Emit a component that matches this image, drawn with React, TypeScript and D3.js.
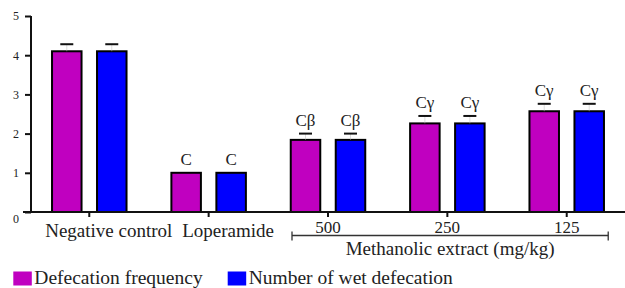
import { useEffect, useRef } from 'react'
import * as d3 from 'd3'

const groups = ['Negative control', 'Loperamide', '500', '250', '125']
const series = ['Defecation frequency', 'Number of wet defecation']
const colors = ['#c000c0', '#0000ff']
const defecationFrequency = [4.1, 1.0, 1.84, 2.26, 2.57]
const wetDefecation = [4.1, 1.0, 1.84, 2.26, 2.57]
const errFrequency = [0.18, 0, 0.16, 0.19, 0.19]
const errWet = [0.18, 0, 0.16, 0.19, 0.19]
const marks = ['', 'C', 'Cβ', 'Cγ', 'Cγ']
const yTicks = [0, 1, 2, 3, 4, 5]
const bracketLabel = 'Methanolic extract (mg/kg)'

const FONT = '"Liberation Serif", "DejaVu Serif", serif'

export default function App() {
  const svgRef = useRef<SVGSVGElement>(null)

  useEffect(() => {
    if (!svgRef.current) return
    const svg = d3.select(svgRef.current)
    svg.selectAll('*').remove()

    const W = 625
    const H = 288
    svg.attr('width', W).attr('height', H).attr('viewBox', `0 0 ${W} ${H}`)

    const axisX = 31
    const x0 = d3.scaleBand().domain(groups).range([29.6, 626.4]).padding(0)
    const x1 = d3.scaleBand().domain(series).range([-37.25, 37.25]).paddingInner(0.344).paddingOuter(0)
    const y = d3.scaleLinear().domain([0, 5]).range([212, 16])

    const cx = (g: string) => (x0(g) as number) + x0.bandwidth() / 2

    const rows = groups.flatMap((g, i) => [
      { g, s: series[0], v: defecationFrequency[i], e: errFrequency[i], m: marks[i], c: colors[0] },
      { g, s: series[1], v: wetDefecation[i], e: errWet[i], m: marks[i], c: colors[1] },
    ])

    // bars
    svg.append('g')
      .selectAll('rect')
      .data(rows)
      .join('rect')
      .attr('x', (d) => cx(d.g) + (x1(d.s) as number))
      .attr('width', x1.bandwidth())
      .attr('y', (d) => y(d.v))
      .attr('height', (d) => y(0) - y(d.v))
      .attr('fill', (d) => d.c)
      .attr('stroke', '#000')
      .attr('stroke-width', 2)

    // error bars: faint stem, dark cap
    const errRows = rows.filter((d) => d.e > 0)
    svg.append('g')
      .selectAll('line.stem')
      .data(errRows)
      .join('line')
      .attr('x1', (d) => cx(d.g) + (x1(d.s) as number) + x1.bandwidth() / 2)
      .attr('x2', (d) => cx(d.g) + (x1(d.s) as number) + x1.bandwidth() / 2)
      .attr('y1', (d) => y(d.v))
      .attr('y2', (d) => y(d.v + d.e))
      .attr('stroke', '#bbb')
      .attr('stroke-width', 0.5)
    svg.append('g')
      .selectAll('line.cap')
      .data(errRows)
      .join('line')
      .attr('x1', (d) => cx(d.g) + (x1(d.s) as number) + x1.bandwidth() / 2 - 6.5)
      .attr('x2', (d) => cx(d.g) + (x1(d.s) as number) + x1.bandwidth() / 2 + 6.5)
      .attr('y1', (d) => y(d.v + d.e))
      .attr('y2', (d) => y(d.v + d.e))
      .attr('stroke', '#111')
      .attr('stroke-width', 2)

    // significance marks
    svg.append('g')
      .selectAll('text')
      .data(rows.filter((d) => d.m))
      .join('text')
      .attr('x', (d) => cx(d.g) + (x1(d.s) as number) + x1.bandwidth() / 2)
      .attr('y', (d) => y(d.v + d.e) - 8)
      .attr('text-anchor', 'middle')
      .attr('font-family', FONT)
      .attr('font-size', 17)
      .attr('fill', '#222')
      .text((d) => d.m)

    // y axis
    const yAxis = svg.append('g')
      .attr('transform', `translate(${axisX},0)`)
      .call(d3.axisLeft(y).tickValues(yTicks).tickSize(6).tickPadding(6).tickFormat(d3.format('d')))
    yAxis.select('.domain').attr('stroke', '#111').attr('stroke-width', 2).attr('d', `M0,${y(5)}V${y(0)}`)
    yAxis.selectAll('.tick line').attr('stroke', '#111').attr('stroke-width', 2)
    yAxis.selectAll('.tick text')
      .attr('font-family', FONT)
      .attr('font-size', 12)
      .attr('fill', '#222')
      .attr('dy', (d: any) => (d === 0 ? '0.9em' : '0.32em'))

    // x axis
    const xAxis = svg.append('g')
      .attr('transform', `translate(0,${y(0)})`)
      .call(d3.axisBottom(x0).tickSize(5).tickFormat(() => ''))
    xAxis.select('.domain').attr('stroke', '#111').attr('stroke-width', 2).attr('d', `M23,0H625`)
    xAxis.selectAll('.tick line').attr('stroke', '#111').attr('stroke-width', 2)

    // category labels
    svg.append('g')
      .selectAll('text')
      .data(groups)
      .join('text')
      .attr('x', (g, i) => cx(g) + (i < 2 ? 19.5 : 0))
      .attr('y', (g, i) => (i < 2 ? 236.5 : 232.5))
      .attr('text-anchor', 'middle')
      .attr('font-family', FONT)
      .attr('font-size', (g, i) => (i < 2 ? 19 : 17))
      .attr('fill', '#222')
      .text((g) => g)

    // bracket under dose groups
    const bx0 = cx(groups[2]) - 36
    const bx1 = cx(groups[4]) + 41.5
    const by = 235.5
    const br = svg.append('g').attr('stroke', '#333').attr('stroke-width', 1.3)
    br.append('line').attr('x1', bx0).attr('x2', bx1).attr('y1', by).attr('y2', by)
    br.append('line').attr('x1', bx0).attr('x2', bx0).attr('y1', by - 4).attr('y2', by + 5)
    br.append('line').attr('x1', bx1).attr('x2', bx1).attr('y1', by - 4).attr('y2', by + 5)
    svg.append('text')
      .attr('x', (bx0 + bx1) / 2)
      .attr('y', 255)
      .attr('text-anchor', 'middle')
      .attr('font-family', FONT)
      .attr('font-size', 19)
      .attr('fill', '#222')
      .text(bracketLabel)

    // legend
    const legendX = [13.3, 227.7]
    const lg = svg.append('g')
    series.forEach((s, i) => {
      lg.append('rect')
        .attr('x', legendX[i]).attr('y', 271.5)
        .attr('width', 18.5).attr('height', 14)
        .attr('fill', colors[i])
      lg.append('text')
        .attr('x', legendX[i] + 21).attr('y', 283.5)
        .attr('font-family', FONT)
        .attr('font-size', 19.5)
        .attr('fill', '#222')
        .text(s)
    })
  }, [])

  return (
    <svg
      ref={svgRef}
      style={{ position: 'absolute', left: 0, top: 0, background: '#fff', display: 'block' }}
    />
  )
}
